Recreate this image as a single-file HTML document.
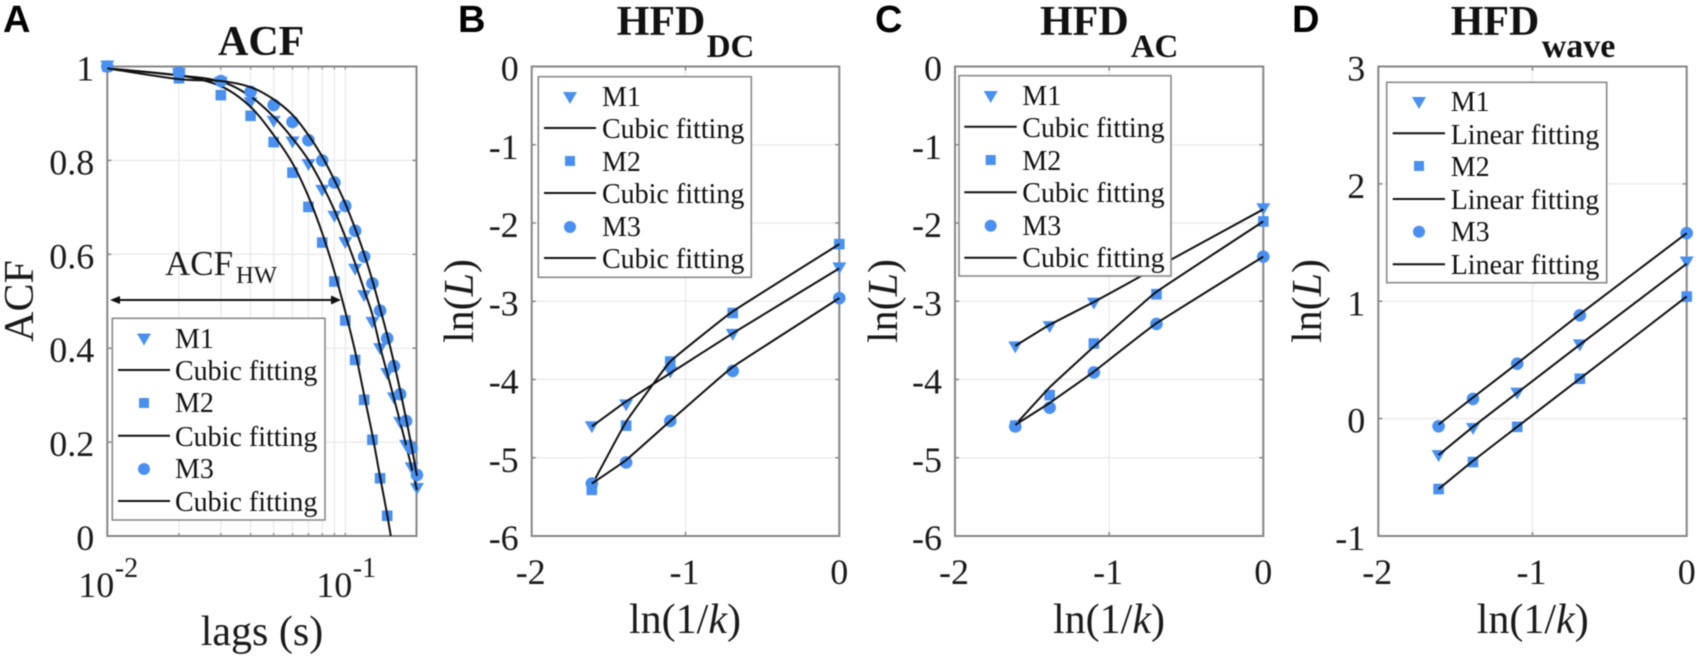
<!DOCTYPE html>
<html lang="en">
<head>
<meta charset="utf-8">
<title>ACF and HFD panels</title>
<style>
html,body{margin:0;padding:0;background:#fff;width:1699px;height:658px;overflow:hidden}
svg{display:block;filter:blur(.5px)}
text{font-family:"Liberation Serif",serif;fill:#1a1a1a}
.letter{font-family:"Liberation Sans",sans-serif;font-weight:700;font-size:38px;fill:#000}
.title{font-weight:700;font-size:42px;fill:#111}
.axis{font-size:42px}
.leg{font-size:28px;fill:#111}
.box{fill:#fff;stroke:#8a8a8a;stroke-width:1.6}
.ll{stroke:#111;stroke-width:2}
.mk{fill:#4a90f0}
</style>
</head>
<body>
<svg id="figure" width="1699" height="658" viewBox="0 0 1699 658" xmlns="http://www.w3.org/2000/svg">
<defs>
<clipPath id="clip-a"><rect x="107" y="66.5" width="310" height="469.5"/></clipPath>
</defs>

<!-- Panel A -->
<g id="panel-a">
<g id="plot-a"></g>
<text class="letter" x="3" y="32">A</text>
<text class="title" x="218" y="55">ACF</text>
<text class="axis" transform="translate(33,301) rotate(-90)" text-anchor="middle">ACF</text>
<text class="axis" x="262" y="645" text-anchor="middle">lags (s)</text>
<text x="165" y="275" font-size="35">ACF<tspan x="236" y="283" font-size="24.6">HW</tspan></text>
<g>
<line x1="114" y1="300" x2="336" y2="300" stroke="#111" stroke-width="1.9"/>
<polygon points="110,300 120,296 120,304" fill="#111"/>
<polygon points="341,300 331,295.5 331,304.5" fill="#111"/>
</g>
<g>
<rect class="box" x="112.3" y="318.3" width="212.7" height="201.7"/>
<polygon class="mk" points="137,333.5 151,333.5 144,345.5"/>
<text class="leg" x="175" y="348">M1</text>
<line class="ll" x1="118" y1="370" x2="170" y2="370"/>
<text class="leg" x="175" y="380">Cubic fitting</text>
<rect class="mk" x="139" y="398" width="10" height="10"/>
<text class="leg" x="175" y="412">M2</text>
<line class="ll" x1="118" y1="435.7" x2="170" y2="435.7"/>
<text class="leg" x="175" y="446">Cubic fitting</text>
<circle class="mk" cx="144" cy="469" r="6"/>
<text class="leg" x="175" y="478">M3</text>
<line class="ll" x1="118" y1="501" x2="170" y2="501"/>
<text class="leg" x="175" y="511">Cubic fitting</text>
</g>
</g>

<!-- Panel B -->
<g id="panel-b">
<g id="plot-b"></g>
<text class="letter" x="458" y="32">B</text>
<text class="title" x="616.7" y="35">HFD<tspan x="706.7" y="57" font-size="33">DC</tspan></text>
<text class="axis" transform="translate(473,301) rotate(-90)" text-anchor="middle">ln(<tspan font-style="italic">L</tspan>)</text>
<text class="axis" x="685" y="633" text-anchor="middle">ln(1/<tspan font-style="italic">k</tspan>)</text>
<g>
<rect class="box" x="538.3" y="76.7" width="213" height="200.6"/>
<polygon class="mk" points="563,92 577,92 570,104"/>
<text class="leg" x="602" y="106">M1</text>
<line class="ll" x1="544" y1="128" x2="596" y2="128"/>
<text class="leg" x="602" y="138">Cubic fitting</text>
<rect class="mk" x="565" y="156" width="10" height="10"/>
<text class="leg" x="602" y="171">M2</text>
<line class="ll" x1="544" y1="193" x2="596" y2="193"/>
<text class="leg" x="602" y="203">Cubic fitting</text>
<circle class="mk" cx="570" cy="227" r="6"/>
<text class="leg" x="602" y="236">M3</text>
<line class="ll" x1="544" y1="258" x2="596" y2="258"/>
<text class="leg" x="602" y="268">Cubic fitting</text>
</g>
</g>

<!-- Panel C -->
<g id="panel-c">
<g id="plot-c"></g>
<text class="letter" x="875" y="32">C</text>
<text class="title" x="1040" y="35">HFD<tspan x="1130.7" y="57" font-size="33">AC</tspan></text>
<text class="axis" transform="translate(897,301) rotate(-90)" text-anchor="middle">ln(<tspan font-style="italic">L</tspan>)</text>
<text class="axis" x="1109" y="633" text-anchor="middle">ln(1/<tspan font-style="italic">k</tspan>)</text>
<g>
<rect class="box" x="959" y="75.7" width="212" height="200.3"/>
<polygon class="mk" points="983.7,91 997.7,91 990.7,103"/>
<text class="leg" x="1022.3" y="105">M1</text>
<line class="ll" x1="964.3" y1="126.7" x2="1016.7" y2="126.7"/>
<text class="leg" x="1022.3" y="137">Cubic fitting</text>
<rect class="mk" x="985.7" y="155" width="10" height="10"/>
<text class="leg" x="1022.3" y="170">M2</text>
<line class="ll" x1="964.3" y1="192.3" x2="1016.7" y2="192.3"/>
<text class="leg" x="1022.3" y="202">Cubic fitting</text>
<circle class="mk" cx="990.7" cy="225.7" r="6"/>
<text class="leg" x="1022.3" y="235">M3</text>
<line class="ll" x1="964.3" y1="257.7" x2="1016.7" y2="257.7"/>
<text class="leg" x="1022.3" y="267">Cubic fitting</text>
</g>
</g>

<!-- Panel D -->
<g id="panel-d">
<g id="plot-d"></g>
<text class="letter" x="1292" y="32">D</text>
<text class="title" x="1450.7" y="35">HFD<tspan x="1541.7" y="57" font-size="34">wave</tspan></text>
<text class="axis" transform="translate(1321,301) rotate(-90)" text-anchor="middle">ln(<tspan font-style="italic">L</tspan>)</text>
<text class="axis" x="1532.7" y="633" text-anchor="middle">ln(1/<tspan font-style="italic">k</tspan>)</text>
<g>
<rect class="box" x="1386.7" y="82.3" width="220" height="200.4"/>
<polygon class="mk" points="1412,97 1426,97 1419,109"/>
<text class="leg" x="1450.7" y="111">M1</text>
<line class="ll" x1="1392.7" y1="133.3" x2="1445" y2="133.3"/>
<text class="leg" x="1450.7" y="144">Linear fitting</text>
<rect class="mk" x="1414" y="161" width="10" height="10"/>
<text class="leg" x="1450.7" y="176">M2</text>
<line class="ll" x1="1392.7" y1="199" x2="1445" y2="199"/>
<text class="leg" x="1450.7" y="209">Linear fitting</text>
<circle class="mk" cx="1419" cy="231.7" r="6"/>
<text class="leg" x="1450.7" y="241">M3</text>
<line class="ll" x1="1392.7" y1="264.3" x2="1445" y2="264.3"/>
<text class="leg" x="1450.7" y="274">Linear fitting</text>
</g>
</g>
</svg>

<script>
// ---- Panel A data ----
const lags = [0.01,0.02,0.03,0.04,0.05,0.06,0.07,0.08,0.09,0.10,0.11,0.12,0.13,0.14,0.15,0.16,0.17,0.18,0.19,0.20];
const acfM1 = [1.0,0.984,0.965,0.922,0.882,0.838,0.790,0.735,0.680,0.624,0.567,0.511,0.454,0.398,0.345,0.293,0.241,0.192,0.144,0.100];
const acfM2 = [1.0,0.975,0.939,0.895,0.839,0.774,0.701,0.625,0.542,0.459,0.375,0.290,0.205,0.123,0.043];
const acfM3 = [1.0,0.987,0.969,0.946,0.918,0.882,0.843,0.800,0.753,0.703,0.650,0.595,0.538,0.480,0.421,0.362,0.302,0.245,0.187,0.130];
const acfFitM1 = [0.996,0.981,0.968,0.936,0.893,0.847,0.801,0.748,0.694,0.637,0.581,0.524,0.471,0.403,0.347,0.294,0.243,0.194,0.145,0.098];
const acfFitM2 = [0.996,0.981,0.958,0.914,0.854,0.794,0.723,0.645,0.563,0.478,0.393,0.300,0.215,0.126,0.045,-0.04];
const acfFitM3 = [0.996,0.973,0.969,0.956,0.930,0.897,0.854,0.808,0.758,0.708,0.655,0.601,0.544,0.485,0.428,0.370,0.310,0.250,0.190,0.128];
const acfYTicks = [0,0.2,0.4,0.6,0.8,1];
const acfYLabels = ['0','0.2','0.4','0.6','0.8','1'];
const acfXMinor = [0.02,0.03,0.04,0.05,0.06,0.07,0.08,0.09,0.1];
const acfXTicks = [0.01,0.1];
const acfXExponents = ['-2','-1'];

// ---- Panels B, C, D data ----
const lnInvK = [-1.609,-1.386,-1.099,-0.693,0];
const hfdXTicks = [-2,-1,0];

const dcM1 = [-4.61,-4.33,-3.91,-3.43,-2.58];
const dcM2 = [-5.41,-4.59,-3.77,-3.15,-2.27];
const dcM3 = [-5.33,-5.06,-4.53,-3.89,-2.96];
const dcFitM1 = [-4.60,-4.28,-3.92,-3.41,-2.58];
const dcFitM2 = [-5.35,-4.54,-3.77,-3.13,-2.27];
const dcFitM3 = [-5.33,-5.03,-4.53,-3.84,-2.96];
const dcYTicks = [0,-1,-2,-3,-4,-5,-6];

const acM1 = [-3.59,-3.33,-3.03,-2.58,-1.825];
const acM2 = [-4.59,-4.20,-3.54,-2.91,-1.98];
const acM3 = [-4.60,-4.36,-3.91,-3.29,-2.43];
const acFitM1 = [-3.57,-3.30,-3.01,-2.57,-1.825];
const acFitM2 = [-4.58,-4.10,-3.58,-2.88,-1.98];
const acFitM3 = [-4.58,-4.30,-3.90,-3.28,-2.43];
const acYTicks = [0,-1,-2,-3,-4,-5,-6];

const waveM1 = [-0.32,-0.088,0.213,0.624,1.33];
const waveM2 = [-0.60,-0.37,-0.07,0.34,1.04];
const waveM3 = [-0.065,0.168,0.468,0.88,1.58];
const waveFitM1 = [-0.31,-0.07,0.22,0.63,1.32];
const waveFitM2 = [-0.60,-0.36,-0.07,0.34,1.04];
const waveFitM3 = [-0.05,0.18,0.47,0.89,1.58];
const waveYTicks = [3,2,1,0,-1];

// ---- Drawing ----
const NS = 'http://www.w3.org/2000/svg';
const BLUE = '#4a90f0', GRID = '#ececec', AXIS = '#868686';

function mk(tag, attrs, parent, name) {
  const el = document.createElementNS(NS, tag);
  for (const k in attrs) el.setAttribute(k, attrs[k]);
  
  
  parent.appendChild(el);
  return el;
}
function linear(d0, d1, r0, r1) {
  return v => r0 + (v - d0) * (r1 - r0) / (d1 - d0);
}
function logScale(d0, r0, pxPerDecade) {
  return v => r0 + (Math.log10(v) - Math.log10(d0)) * pxPerDecade;
}
function smoothPath(xs, ys, k) {
  let d = 'M' + xs[0].toFixed(2) + ' ' + ys[0].toFixed(2);
  for (let i = 0; i < xs.length - 1; i++) {
    const p = Math.max(i - 1, 0), n = Math.min(i + 2, xs.length - 1);
    const c1x = xs[i] + (xs[i + 1] - xs[p]) * k, c1y = ys[i] + (ys[i + 1] - ys[p]) * k;
    const c2x = xs[i + 1] - (xs[n] - xs[i]) * k, c2y = ys[i + 1] - (ys[n] - ys[i]) * k;
    d += 'C' + [c1x, c1y, c2x, c2y, xs[i + 1], ys[i + 1]].map(v => v.toFixed(2)).join(' ');
  }
  return d;
}
function marker(kind, px, py, parent, name) {
  if (kind === 'triangle') {
    const pts = (px - 7) + ',' + (py - 6) + ' ' + (px + 7) + ',' + (py - 6) + ' ' + px + ',' + (py + 6);
    mk('polygon', { points: pts, fill: BLUE }, parent, name);
  } else if (kind === 'square') {
    mk('rect', { x: px - 5.3, y: py - 5.3, width: 10.6, height: 10.6, fill: BLUE }, parent, name);
  } else {
    mk('circle', { cx: px, cy: py, r: 6.3, fill: BLUE }, parent, name);
  }
}
function frame(g, box) {
  mk('rect', { x: box.l, y: box.t, width: box.r - box.l, height: box.b - box.t, fill: 'none', stroke: AXIS, 'stroke-width': 2 }, g, 'axes-box');
}
function yAxis(g, box, y, ticks, labels) {
  ticks.forEach((t, i) => {
    const py = y(t);
    if (py > box.t + 1 && py < box.b - 1) {
      mk('line', { x1: box.l, x2: box.r, y1: py, y2: py, stroke: GRID, 'stroke-width': 1.5 }, g, 'y-gridline');
      mk('line', { x1: box.l, x2: box.l + 4, y1: py, y2: py, stroke: AXIS, 'stroke-width': 1.5 }, g, 'y-tick');
      mk('line', { x1: box.r - 4, x2: box.r, y1: py, y2: py, stroke: AXIS, 'stroke-width': 1.5 }, g, 'y-tick');
    }
    const tx = mk('text', { x: box.l - 13, y: py + 14, 'text-anchor': 'end', 'font-size': 36 }, g, 'y-tick-label');
    tx.textContent = labels[i];
  });
}
function hfdXAxis(g, box, x, ticks) {
  ticks.forEach(t => {
    const px = x(t);
    if (px > box.l + 1 && px < box.r - 1) {
      mk('line', { x1: px, x2: px, y1: box.t, y2: box.b, stroke: GRID, 'stroke-width': 1.5 }, g, 'x-gridline');
      mk('line', { x1: px, x2: px, y1: box.t, y2: box.t + 4, stroke: AXIS, 'stroke-width': 1.5 }, g, 'x-tick');
      mk('line', { x1: px, x2: px, y1: box.b - 4, y2: box.b, stroke: AXIS, 'stroke-width': 1.5 }, g, 'x-tick');
    }
    const tx = mk('text', { x: px - (t < 0 ? 1 : 0), y: 584, 'text-anchor': 'middle', 'font-size': 36 }, g, 'x-tick-label');
    tx.textContent = String(t);
  });
}
function series(g, xs, vals, fit, kind, x, y, label, k, clip) {
  vals.forEach((v, i) => {
    marker(kind, x(xs[i]), y(v), g, label + '-point');
  });
  const attrs = {
    d: smoothPath(fit.map((_, i) => x(xs[i])), fit.map(v => y(v)), k),
    fill: 'none', stroke: '#111', 'stroke-width': 2
  };
  if (clip) attrs['clip-path'] = 'url(#' + clip + ')';
  mk('path', attrs, g, label + '-fit-line');
}

// Panel A
(function () {
  const g = document.getElementById('plot-a');
  const box = { l: 107.3, r: 416.5, t: 66.5, b: 536 };
  const x = logScale(0.01, 107.3, 238);
  const y = linear(0, 1, 536, 66.5);
  acfXMinor.forEach(t => {
    const px = x(t);
    mk('line', { x1: px, x2: px, y1: box.t, y2: box.b, stroke: GRID, 'stroke-width': 1.5 }, g, 'x-gridline');
    mk('line', { x1: px, x2: px, y1: box.t, y2: box.t + 3, stroke: AXIS, 'stroke-width': 1.2 }, g, 'x-tick');
    mk('line', { x1: px, x2: px, y1: box.b - 3, y2: box.b, stroke: AXIS, 'stroke-width': 1.2 }, g, 'x-tick');
  });
  yAxis(g, box, y, acfYTicks, acfYLabels);
  frame(g, box);
  acfXTicks.forEach((t, i) => {
    const px = x(t);
    const tx = mk('text', { x: px - 29, y: 597, 'font-size': 36 }, g, 'x-tick-label');
    tx.textContent = '10';
    const sup = mk('text', { x: px + 7.5, y: 577, 'font-size': 28 }, g, 'x-tick-exponent');
    sup.textContent = acfXExponents[i];
  });
  series(g, lags, acfM1, acfFitM1, 'triangle', x, y, 'm1', 1 / 6);
  series(g, lags, acfM2, acfFitM2, 'square', x, y, 'm2', 1 / 6, 'clip-a');
  series(g, lags, acfM3, acfFitM3, 'circle', x, y, 'm3', 1 / 6);
})();

function hfdPanel(id, l, r, yTop, yBottom, yTicks, m1, m2, m3, f1, f2, f3) {
  const g = document.getElementById(id);
  const box = { l: l, r: r, t: 66.5, b: 536 };
  const x = linear(-2, 0, l, r);
  const y = linear(yBottom, yTop, 536, 66.5);
  hfdXAxis(g, box, x, hfdXTicks);
  yAxis(g, box, y, yTicks, yTicks.map(String));
  frame(g, box);
  series(g, lnInvK, m1, f1, 'triangle', x, y, 'm1', 1 / 24);
  series(g, lnInvK, m2, f2, 'square', x, y, 'm2', 1 / 24);
  series(g, lnInvK, m3, f3, 'circle', x, y, 'm3', 1 / 24);
}
hfdPanel('plot-b', 531.7, 839.3, 0, -6, dcYTicks, dcM1, dcM2, dcM3, dcFitM1, dcFitM2, dcFitM3);
hfdPanel('plot-c', 955, 1263.3, 0, -6, acYTicks, acM1, acM2, acM3, acFitM1, acFitM2, acFitM3);
hfdPanel('plot-d', 1378.3, 1686.7, 3, -1, waveYTicks, waveM1, waveM2, waveM3, waveFitM1, waveFitM2, waveFitM3);
</script>
</body>
</html>
